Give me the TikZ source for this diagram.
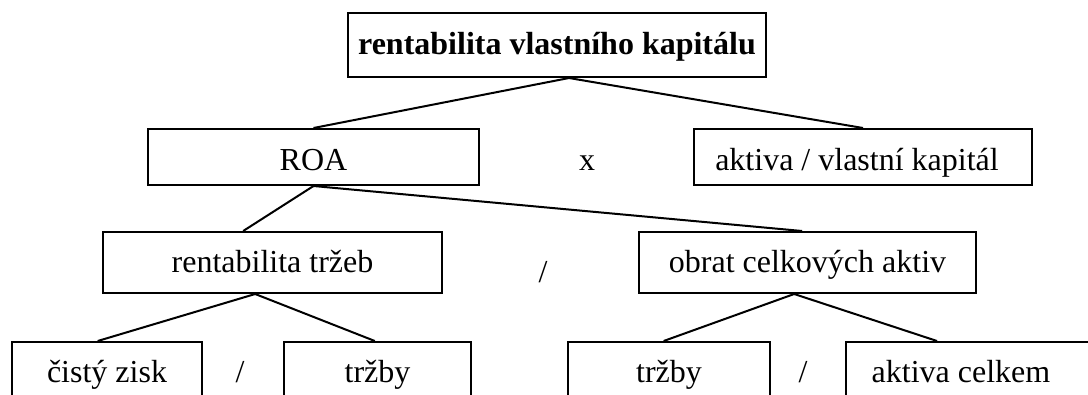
\documentclass[tikz,border=0pt]{standalone}
\usepackage{fontspec}
\setmainfont{Liberation Serif}
\begin{document}
\begin{tikzpicture}[x=0.75pt,y=-0.75pt,
  every node/.style={font=\fontsize{24}{28}\selectfont},
  box/.style n args={3}{draw, line width=1.5pt, rectangle, inner sep=0pt,
    minimum width=#1*0.75pt, minimum height=#2*0.75pt, text height=#3, text depth=0pt},
  link/.style={line width=1.5pt},
  op/.style={anchor=base, inner sep=0pt}]
\path[use as bounding box, clip] (0,0) rectangle (1088,394);
% boxes
\node[box={418}{64}{13.5pt}] (top) at (557,45) {\textbf{rentabilita vlastního kapitálu}};
\node[box={331}{56}{19.5pt}] (roa) at (313.5,157) {ROA};
\node[box={338}{56}{19.5pt}] (avk) at (863,157) {aktiva / vlastní kapitál\hspace*{9pt}};
\node[box={339}{61}{14.25pt}] (rt) at (272.5,262.5) {rentabilita tržeb};
\node[box={337}{61}{14.25pt}] (oca) at (807.5,262.5) {obrat celkových aktiv};
\node[box={190}{56}{18pt}] (cz) at (107,370) {čistý zisk};
\node[box={187}{56}{18pt}] (t1) at (377.5,370) {tržby};
\node[box={202}{56}{18pt}] (t2) at (669,370) {tržby};
\node[box={254}{56}{18pt}] (ac) at (973,370) {aktiva celkem\hspace*{18pt}};
% operators
\node[op] (ox) at (587,170) {x};
\node[op] (od1) at (543,282) {/};
\node[op] (od2) at (240,382) {/};
\node[op] (od3) at (803,382) {/};
% connectors
\draw[link] ([xshift=9pt]top.south) -- (roa.north);
\draw[link] ([xshift=9pt]top.south) -- (avk.north);
\draw[link] (roa.south) -- ([xshift=-22pt]rt.north);
\draw[link] (roa.south) -- ([xshift=-4pt]oca.north);
\draw[link] ([xshift=-13pt]rt.south) -- ([xshift=-7pt]cz.north);
\draw[link] ([xshift=-13pt]rt.south) -- ([xshift=-2pt]t1.north);
\draw[link] ([xshift=-10pt]oca.south) -- ([xshift=-4pt]t2.north);
\draw[link] ([xshift=-10pt]oca.south) -- ([xshift=-27pt]ac.north);
\end{tikzpicture}
\end{document}
